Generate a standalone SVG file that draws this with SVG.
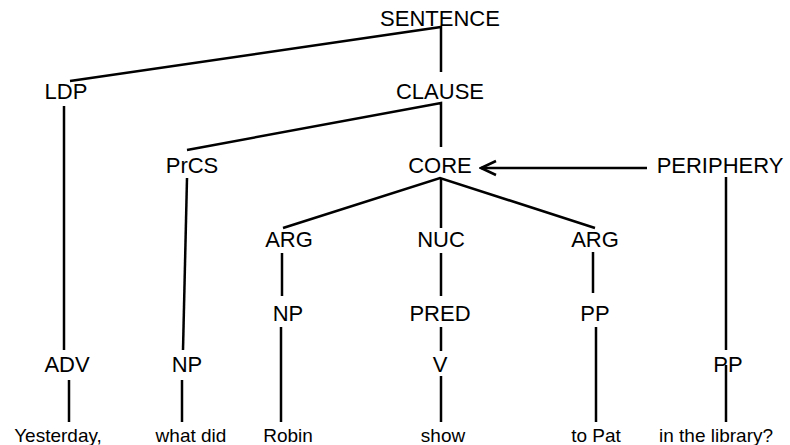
<svg xmlns="http://www.w3.org/2000/svg" width="790" height="445" viewBox="0 0 790 445">
<style>
.lbl{font-family:"Liberation Sans",Arial,sans-serif;font-size:22px;fill:#000;text-anchor:middle}
.wd{font-family:"Liberation Sans",Arial,sans-serif;font-size:19px;fill:#000;text-anchor:middle}
.e{stroke:#000;stroke-width:2.5;fill:none;stroke-linecap:butt}
</style>
<defs>
<marker id="ah" viewBox="0 0 20 20" refX="18" refY="10" markerWidth="20" markerHeight="20" markerUnits="userSpaceOnUse" orient="auto">
<path d="M3,3 L18,10 L3,17" fill="none" stroke="#000" stroke-width="2.5"/>
</marker>
</defs>
<rect width="790" height="445" fill="#fff"/>
<g id="connectors">
<polyline class="e" points="70,81 441,27 441,72"/>
<polyline class="e" points="187,150 441,103 441,147"/>
<line class="e" x1="64" y1="106" x2="64" y2="350"/>
<line class="e" x1="187" y1="178" x2="183" y2="350"/>
<line class="e" x1="69" y1="380" x2="69" y2="422"/>
<line class="e" x1="182" y1="380" x2="182" y2="422"/>
<polyline class="e" points="283,228 440,178 595,228"/>
<line class="e" x1="441" y1="178" x2="441" y2="228"/>
<line class="e" x1="282" y1="253" x2="282" y2="296"/>
<line class="e" x1="441" y1="253" x2="441" y2="296"/>
<line class="e" x1="593" y1="252" x2="593" y2="293"/>
<line class="e" x1="281" y1="327" x2="281" y2="422"/>
<line class="e" x1="441" y1="327" x2="441" y2="351"/>
<line class="e" x1="441" y1="376" x2="441" y2="422"/>
<line class="e" x1="596" y1="327" x2="596" y2="422"/>
<line class="e" x1="726" y1="177" x2="726" y2="350"/>
<line class="e" x1="726" y1="365" x2="726" y2="422"/>
<line class="e" x1="647" y1="168" x2="481" y2="168" marker-end="url(#ah)"/>
</g>
<g id="n-sentence"><text class="lbl" x="440" y="26">SENTENCE</text></g>
<g id="n-ldp"><text class="lbl" x="66" y="99">LDP</text></g>
<g id="n-clause"><text class="lbl" x="440" y="99">CLAUSE</text></g>
<g id="n-prcs"><text class="lbl" x="192" y="173">PrCS</text></g>
<g id="n-core"><text class="lbl" x="440" y="173">CORE</text></g>
<g id="n-periphery"><text class="lbl" x="720" y="173">PERIPHERY</text></g>
<g id="n-arg1"><text class="lbl" x="289" y="247">ARG</text></g>
<g id="n-nuc"><text class="lbl" x="441" y="247">NUC</text></g>
<g id="n-arg2"><text class="lbl" x="595" y="247">ARG</text></g>
<g id="n-np1"><text class="lbl" x="288" y="321">NP</text></g>
<g id="n-pred"><text class="lbl" x="440" y="321">PRED</text></g>
<g id="n-pp1"><text class="lbl" x="595" y="321">PP</text></g>
<g id="n-adv"><text class="lbl" x="67" y="372">ADV</text></g>
<g id="n-np2"><text class="lbl" x="187" y="372">NP</text></g>
<g id="n-v"><text class="lbl" x="440" y="372">V</text></g>
<g id="n-pp2"><text class="lbl" x="728" y="372">PP</text></g>
<g id="w-yesterday"><text class="wd" x="58" y="442">Yesterday,</text></g>
<g id="w-whatdid"><text class="wd" x="191" y="442">what did</text></g>
<g id="w-robin"><text class="wd" x="288" y="442">Robin</text></g>
<g id="w-show"><text class="wd" x="443" y="442">show</text></g>
<g id="w-topat"><text class="wd" x="596" y="442">to Pat</text></g>
<g id="w-library"><text class="wd" x="716" y="442">in the library?</text></g>
</svg>
